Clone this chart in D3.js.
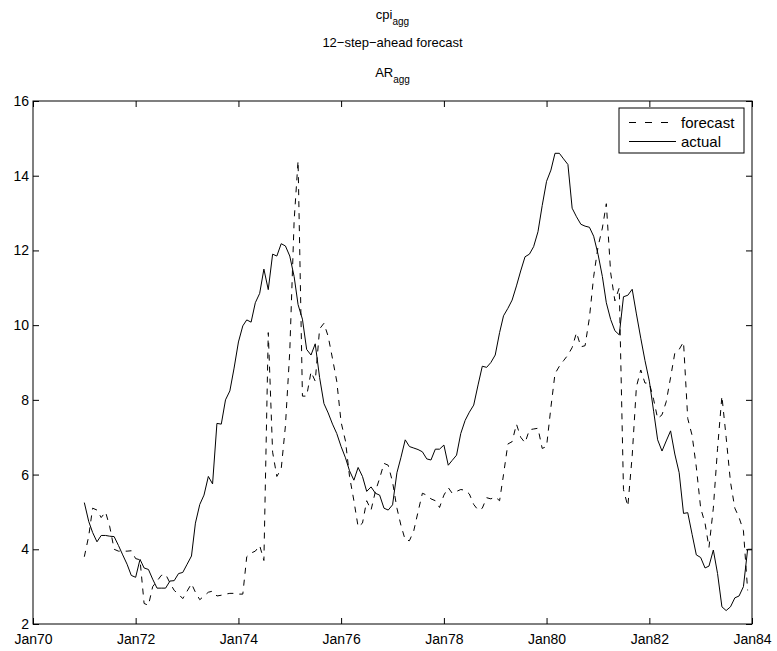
<!DOCTYPE html>
<html><head><meta charset="utf-8">
<script src="https://cdn.jsdelivr.net/npm/d3@7"></script>
<style>
body{margin:0;background:#fff}
text{font-family:"Liberation Sans",Arial,Helvetica,sans-serif;fill:#000}
</style></head>
<body><svg id="c" width="777" height="651"></svg>
<script>
// Monthly series starting Jan 1971
const startYear = 1971, startMonth = 0;
const actual = [5.25,4.75,4.45,4.2,4.37,4.37,4.35,4.34,4.1,3.85,3.6,3.3,
3.25,3.73,3.5,3.46,3.2,2.96,2.96,2.96,3.15,3.16,3.35,3.38,
3.6,3.82,4.7,5.2,5.45,5.95,5.75,7.37,7.35,8.0,8.24,8.85,
9.55,9.98,10.14,10.08,10.6,10.85,11.5,10.95,11.9,11.85,12.18,12.12,
11.85,11.3,10.55,10.16,9.35,9.2,9.5,8.6,7.9,7.65,7.35,7.1,
6.75,6.45,6.1,5.85,6.19,5.95,5.55,5.67,5.5,5.45,5.1,5.05,
5.19,6.05,6.45,6.93,6.75,6.71,6.67,6.61,6.42,6.39,6.68,6.68,
6.79,6.25,6.38,6.52,7.1,7.45,7.67,7.86,8.4,8.9,8.87,9.0,
9.2,9.8,10.25,10.45,10.67,11.05,11.45,11.83,11.9,12.1,12.5,13.2,
13.85,14.15,14.6,14.6,14.45,14.3,13.13,12.9,12.7,12.65,12.62,12.38,
11.9,11.3,10.6,10.15,9.85,9.74,10.76,10.8,10.96,10.3,9.65,9.05,
8.5,7.68,6.93,6.63,6.9,7.17,6.55,6.05,4.96,4.98,4.4,3.85,
3.78,3.5,3.55,3.98,3.35,2.46,2.36,2.46,2.7,2.75,3.0,4.0,
4.0];
const forecast = [3.8,4.35,5.1,5.05,4.85,5.0,4.6,4.0,3.95,3.95,3.95,3.96,
3.75,3.72,2.55,2.5,3.0,3.15,3.3,3.33,3.1,2.9,2.8,2.68,
2.88,3.08,2.85,2.65,2.75,2.85,2.88,2.75,2.77,2.8,2.82,2.82,
2.8,2.8,3.8,3.9,3.95,4.1,3.7,9.8,6.6,5.95,6.15,7.3,
9.3,12.8,14.4,8.1,8.1,8.75,8.5,9.9,10.05,9.7,9.1,8.5,
7.4,6.9,5.95,5.3,4.6,4.7,5.3,5.05,5.55,5.9,6.3,6.25,
5.8,5.1,4.65,4.25,4.23,4.5,5.0,5.5,5.45,5.35,5.3,5.12,
5.45,5.65,5.5,5.55,5.6,5.58,5.48,5.2,5.05,5.1,5.38,5.35,
5.4,5.3,6.0,6.82,6.88,7.35,7.0,6.85,7.2,7.22,7.24,6.7,
6.75,7.8,8.7,8.9,9.05,9.2,9.4,9.8,9.42,9.45,10.2,11.3,
12.1,12.6,13.25,11.4,10.65,11.0,5.6,5.15,6.5,8.35,8.8,8.45,
8.45,8.0,7.5,7.6,7.95,8.6,9.25,9.35,9.55,7.5,7.05,6.2,
5.1,4.7,4.05,5.1,6.7,8.1,7.0,5.8,5.1,4.85,4.5,2.9];
const xTickYears = [1970,1972,1974,1976,1978,1980,1982,1984];
const yTicks = [2,4,6,8,10,12,14,16];
const seriesNames = ["forecast","actual"];

const svg = d3.select("#c");
const L=33, R=752, T=101, B=624;
const x = d3.scaleTime().domain([new Date(1970,0,1), new Date(1984,0,1)]).range([L,R]);
const y = d3.scaleLinear().domain([2,16]).range([B,T]);
const dateOf = i => new Date(startYear, startMonth + i, 1);
const fmt = d3.timeFormat("%b%y");
const tickDates = xTickYears.map(yy => new Date(yy,0,1));

// axes
const fs = "13px", tfs = "14px";
const gB = svg.append("g").attr("transform",`translate(0,${B})`)
  .call(d3.axisBottom(x).tickValues(tickDates).tickFormat(fmt).tickSizeInner(-6).tickSizeOuter(0).tickPadding(10));
const gT = svg.append("g").attr("transform",`translate(0,${T})`)
  .call(d3.axisTop(x).tickValues(tickDates).tickFormat("").tickSizeInner(-6).tickSizeOuter(0));
const gL = svg.append("g").attr("transform",`translate(${L},0)`)
  .call(d3.axisLeft(y).tickValues(yTicks).tickSizeInner(-6).tickSizeOuter(0).tickPadding(4));
const gR = svg.append("g").attr("transform",`translate(${R},0)`)
  .call(d3.axisRight(y).tickValues(yTicks).tickFormat("").tickSizeInner(-6).tickSizeOuter(0));
[gB,gT,gL,gR].forEach(g=>{
  g.select(".domain").remove();
  g.selectAll("line").attr("stroke","#000");
  g.selectAll("text").style("font-size",tfs).style("font-family",'"Liberation Sans",Arial,sans-serif').attr("fill","#000");
});
svg.append("rect").attr("x",L).attr("y",T).attr("width",R-L).attr("height",B-T)
  .attr("fill","none").attr("stroke","#000").attr("stroke-width",1);

// lines
const line = d3.line().x((d,i)=>x(dateOf(i))).y(d=>y(d));
svg.append("path").datum(forecast).attr("d",line).attr("fill","none")
  .attr("stroke","#000").attr("stroke-width",1).attr("stroke-dasharray","6,6");
svg.append("path").datum(actual).attr("d",line).attr("fill","none")
  .attr("stroke","#000").attr("stroke-width",1);

// titles
const cx = (L+R)/2;
const t1 = svg.append("text").attr("x",cx).attr("y",19).attr("text-anchor","middle").style("font-size",fs);
t1.append("tspan").text("cpi");
t1.append("tspan").attr("dy",6).style("font-size","10px").text("agg");
svg.append("text").attr("x",cx).attr("y",47).attr("text-anchor","middle").style("font-size",fs).text("12\u2212step\u2212ahead forecast");
const t3 = svg.append("text").attr("x",cx).attr("y",77).attr("text-anchor","middle").style("font-size",fs);
t3.append("tspan").text("AR");
t3.append("tspan").attr("dy",6).style("font-size","10px").text("agg");

// legend
const lg = svg.append("g");
lg.append("rect").attr("x",619).attr("y",108).attr("width",125).attr("height",45)
  .attr("fill","#fff").attr("stroke","#000");
const rows = [{n:seriesNames[0],dash:"7,9",yy:122.5},{n:seriesNames[1],dash:null,yy:141.5}];
rows.forEach(r=>{
  lg.append("line").attr("x1",629).attr("x2",676).attr("y1",r.yy).attr("y2",r.yy)
    .attr("stroke","#000").attr("stroke-dasharray",r.dash);
  lg.append("text").attr("x",681).attr("y",r.yy+5).style("font-size","15px").text(r.n);
});
</script></body></html>
